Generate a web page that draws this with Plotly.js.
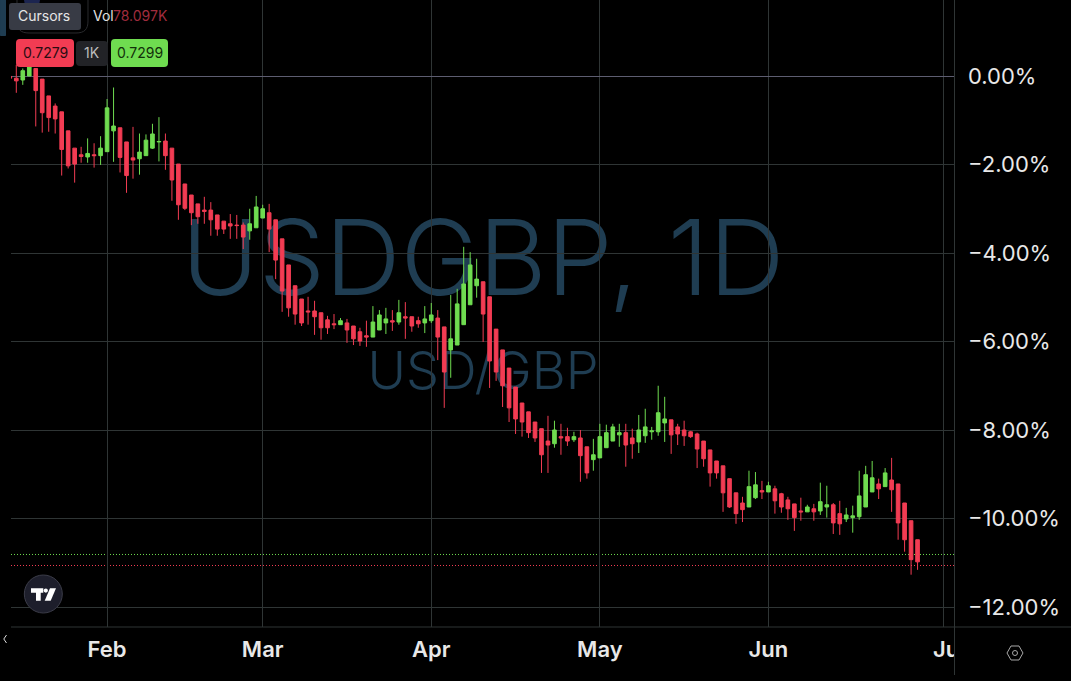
<!DOCTYPE html>
<html>
<head>
<meta charset="utf-8">
<script src="https://cdn.plot.ly/plotly-3.0.1.min.js"></script>
<style>html,body{margin:0;padding:0;background:#000;overflow:hidden}#chart{width:1071px;height:681px}</style>
</head>
<body>
<div id="chart"></div>
<script>
const openPct = [-0.01,-0.05,-0.09,0,0.17,-0.07,-0.45,-0.68,-0.81,-1.24,-1.63,-1.78,-1.83,-1.78,-1.80,-1.71,-1.24,-1.17,-1.49,-1.85,-1.87,-1.80,-1.63,-1.49,-1.47,-1.63,-1.99,-2.44,-2.69,-2.89,-3.03,-3.03,-3.14,-3.28,-3.34,-3.37,
-3.37,-3.50,-3.43,-3.21,-3.09,-3.25,-3.68,-4.27,-4.74,-5.04,-5.31,-5.31,-5.35,-5.51,-5.60,-5.62,-5.58,-5.65,-5.78,-5.87,-5.90,-5.74,-5.58,-5.53,-5.56,-5.44,-5.44,-5.53,-5.58,-5.53,-5.47,-5.67,-6.19,-6.08,-5.62,-5.17,-4.74,-4.65,-4.99,-5.72,-6.19,-6.60,
-7.03,-7.39,-7.59,-7.82,-7.97,-8.25,-8.31,-8.15,-8.15,-8.22,-8.18,-8.38,-8.67,-8.63,-8.40,-8.25,-8.11,-8.06,-8.18,-8.27,-8.13,-8.04,-8.04,-7.84,-7.77,-7.93,-8.00,-8.04,-8.09,-8.25,-8.45,-8.70,-8.81,-9.10,-9.42,
-9.65,-9.74,-9.53,-9.37,-9.40,-9.33,-9.44,-9.58,-9.67,-9.83,-9.85,-9.78,-9.83,-9.74,-9.69,-9.89,-10.01,-9.98,-9.96,-9.74,-9.40,-9.22,-9.28,-9.13,-9.22,-9.65,-10.05,-10.48];
const highPct = [0,0.25,0.17,0.29,0.17,-0.07,-0.45,-0.62,-0.81,-1.24,-1.63,-1.60,-1.41,-1.52,-1.36,-0.52,-0.26,-1.17,-1.49,-1.15,-1.30,-1.32,-1.08,-0.93,-1.30,-1.63,-1.99,-2.44,-2.69,-2.89,-2.73,-2.85,-3.14,-3.28,-3.12,-3.14,
-3.31,-3.00,-2.71,-2.91,-2.89,-3.25,-3.68,-4.27,-4.74,-5.04,-4.99,-5.08,-5.35,-5.42,-5.38,-5.47,-5.49,-5.65,-5.69,-5.53,-5.20,-5.29,-5.24,-5.29,-5.06,-5.11,-5.44,-5.44,-5.20,-5.13,-5.29,-5.67,-4.95,-4.81,-3.86,-3.98,-4.13,-4.65,-4.99,-5.72,-6.19,-6.60,
-7.03,-7.39,-7.59,-7.82,-7.97,-7.68,-7.79,-7.86,-7.95,-8.04,-8.00,-8.38,-8.20,-7.86,-7.88,-7.86,-7.86,-7.86,-7.97,-7.66,-7.52,-7.93,-7.00,-7.25,-7.77,-7.86,-7.79,-8.02,-8.06,-8.25,-8.45,-8.70,-8.81,-9.10,-9.42,
-9.51,-8.92,-8.95,-9.15,-9.17,-9.26,-9.42,-9.51,-9.67,-9.53,-9.69,-9.67,-9.19,-9.26,-9.65,-9.60,-9.76,-9.71,-8.92,-8.81,-8.70,-9.10,-8.86,-8.63,-9.22,-9.65,-10.05,-10.48];
const lowPct = [-0.07,-0.38,-0.20,0,-1.14,-1.28,-1.26,-1.30,-2.25,-2.09,-2.41,-1.96,-1.96,-2.07,-2.01,-1.71,-1.94,-2.18,-2.64,-2.32,-2.23,-1.80,-1.65,-1.93,-2.12,-2.82,-3.25,-3.03,-3.37,-3.34,-3.34,-3.61,-3.61,-3.57,-3.68,-3.68,
-3.91,-3.70,-3.43,-3.21,-3.98,-4.59,-5.33,-5.44,-5.62,-5.65,-5.62,-5.85,-5.96,-5.83,-5.72,-5.62,-6.03,-6.08,-6.10,-6.12,-5.90,-5.74,-5.83,-5.76,-5.62,-5.94,-5.78,-5.69,-5.81,-5.58,-6.42,-7.50,-6.82,-6.08,-5.62,-5.17,-5.01,-6.01,-7.05,-6.89,-7.48,-7.82,
-8.09,-8.15,-8.18,-8.27,-8.97,-8.97,-8.40,-8.56,-8.36,-8.27,-9.17,-9.10,-8.92,-8.63,-8.40,-8.25,-8.38,-8.83,-8.65,-8.52,-8.29,-8.22,-8.13,-8.27,-8.54,-8.34,-8.36,-8.18,-8.86,-8.83,-9.28,-9.10,-9.85,-9.76,-10.12,
-10.08,-9.74,-9.56,-9.56,-9.40,-9.89,-9.87,-10.03,-10.28,-10.05,-9.85,-10.05,-9.92,-9.98,-10.35,-10.37,-10.08,-10.32,-10.03,-9.74,-9.40,-9.56,-9.28,-9.85,-10.48,-10.75,-11.27,-11.16];
const closePct = [-0.05,-0.11,0.12,0.21,-0.33,-0.83,-0.94,-0.97,-1.66,-2.03,-1.99,-1.82,-1.75,-1.80,-1.63,-0.72,-1.13,-1.84,-2.25,-1.90,-1.72,-1.45,-1.31,-1.48,-1.80,-2.35,-2.91,-2.99,-3.09,-3.18,-3.06,-3.25,-3.46,-3.46,-3.39,-3.38,
-3.64,-3.34,-2.96,-3.00,-3.46,-4.16,-4.86,-5.24,-5.38,-5.58,-5.33,-5.44,-5.69,-5.69,-5.62,-5.53,-5.74,-5.94,-5.99,-5.90,-5.56,-5.40,-5.49,-5.56,-5.35,-5.47,-5.65,-5.60,-5.49,-5.40,-5.90,-6.69,-5.94,-5.15,-4.70,-4.27,-4.59,-5.38,-6.44,-6.69,-7.00,-7.50,
-7.75,-7.82,-8.06,-8.18,-8.56,-8.34,-8.00,-8.18,-8.25,-8.15,-8.58,-8.97,-8.56,-8.15,-8.06,-7.93,-8.06,-8.34,-8.31,-8.00,-7.93,-8.02,-7.61,-7.75,-8.11,-8.09,-8.13,-8.15,-8.43,-8.65,-8.97,-8.97,-9.42,-9.74,-9.89,
-9.80,-9.28,-9.24,-9.40,-9.26,-9.60,-9.74,-9.78,-9.98,-9.85,-9.74,-9.85,-9.62,-9.69,-10.10,-10.12,-9.92,-9.94,-9.49,-9.01,-9.08,-9.33,-8.97,-9.35,-10.10,-10.48,-10.93,-10.98];
const candleSlots = openPct.map((_, i) => i - 1);
const monthSlots = [14, 38, 64, 90, 116, 143];
const monthLabels = ['Feb', 'Mar', 'Apr', 'May', 'Jun', '\u00a0\u00a0Jul'];
const yTicks = [0, -2, -4, -6, -8, -10, -12];
const yTickLabels = ['0.00%', '\u22122.00%', '\u22124.00%', '\u22126.00%', '\u22128.00%', '\u221210.00%', '\u221212.00%'];
const bidLevel = -10.813;
const askLevel = -11.062;

const RED = '#f23c53', GREEN = '#6fdc50', GRID = '#2f3535', WM = '#1f3d52';
const L = 11, T = 0, W = 943, H = 627;
const px = x => (x - L) / W;
const py = y => 1 - (y - T) / H;
const P = (x, y) => px(x).toFixed(5) + ',' + py(y).toFixed(5);
const poly = (pts, close) => 'M' + pts.map(p => P(p[0], p[1])).join('L') + (close ? 'Z' : '');
function rrect(x0, y0, x1, y1, r) {
  const k = r * 0.3;
  return 'M' + P(x0 + r, y0) + 'L' + P(x1 - r, y0) + 'C' + P(x1 - k, y0) + ' ' + P(x1, y0 + k) + ' ' + P(x1, y0 + r) +
    'L' + P(x1, y1 - r) + 'C' + P(x1, y1 - k) + ' ' + P(x1 - k, y1) + ' ' + P(x1 - r, y1) +
    'L' + P(x0 + r, y1) + 'C' + P(x0 + k, y1) + ' ' + P(x0, y1 - k) + ' ' + P(x0, y1 - r) +
    'L' + P(x0, y0 + r) + 'C' + P(x0, y0 + k) + ' ' + P(x0 + k, y0) + ' ' + P(x0 + r, y0) + 'Z';
}
const pathShape = (path, fill, line, lw) => ({type: 'path', xref: 'paper', yref: 'paper', path, fillcolor: fill || 'rgba(0,0,0,0)', line: {color: line || 'rgba(0,0,0,0)', width: lw || 0}, layer: 'above'});
const circle = (cx, cy, r, fill, line, lw) => ({type: 'circle', xref: 'paper', yref: 'paper', x0: px(cx - r), x1: px(cx + r), y0: py(cy + r), y1: py(cy - r), fillcolor: fill || 'rgba(0,0,0,0)', line: {color: line || 'rgba(0,0,0,0)', width: lw || 0}, layer: 'above'});
const segment = (x0, y0, x1, y1, color) => ({type: 'line', xref: 'paper', yref: 'paper', x0: px(x0), x1: px(x1), y0: py(y0), y1: py(y1), line: {color, width: 1}, layer: 'above'});
const watermark = (text, cx, cy, size) => ({type: 'rect', xref: 'paper', yref: 'paper', x0: px(cx - 400), x1: px(cx + 400), y0: py(cy + 80), y1: py(cy - 80), layer: 'below', fillcolor: 'rgba(0,0,0,0)', line: {width: 0},
  label: {text, textposition: 'middle center', font: {family: 'Inter, sans-serif', size, color: WM, weight: 300}}});
const level = (y, color) => ({type: 'line', xref: 'paper', yref: 'y', x0: 0, x1: 1, y0: y, y1: y, layer: 'below', line: {color, width: 1, dash: '1px,2px'}});
const label = (text, x, y, size, color, anchor, weight) => ({text, xref: 'paper', yref: 'paper', x: px(x), y: py(y), xanchor: anchor || 'center', yanchor: 'middle', showarrow: false, font: {family: 'Inter, sans-serif', size, color, weight: weight || 400}});

const shapes = [
  watermark('USDGBP, 1D', 483, 253, 105),
  watermark('USD/GBP', 483, 369, 52.3),
  level(bidLevel, GREEN), level(askLevel, RED),
  {type: 'rect', xref: 'paper', yref: 'paper', x0: px(954.6), x1: px(1000), y0: py(676), y1: py(629), fillcolor: '#000', line: {width: 0}, layer: 'above'},
  segment(11, 627, 1071, 627, '#2f3535'),
  segment(954.5, 0, 954.5, 675, '#2f3535'),
  pathShape(rrect(0, -6, 6, 36, 1), WM),
  pathShape(rrect(17, -20, 88, 33, 12), '#000', '#2a2b2e', 1),
  circle(32, 0, 8, '#1c2550'),
  pathShape(rrect(9, 3, 81, 30, 3), '#383b45'),
  pathShape(rrect(16, 39, 74, 67, 4), RED),
  pathShape(rrect(76, 41, 108, 66, 4), '#222327'),
  pathShape(rrect(111, 39, 168, 67, 4), GREEN),
  circle(43.3, 594, 19, '#1d1e2b', '#3b3c48', 1),
  pathShape(poly([[31, 588.3], [43.3, 588.3], [43.3, 592.7], [40.7, 592.7], [40.7, 600.7], [36, 600.7], [36, 592.7], [31, 592.7]], true), '#fff'),
  circle(45.8, 590.6, 2.1, '#fff'),
  pathShape(poly([[50, 588.3], [56, 588.3], [50.7, 600.7], [44.7, 600.7]], true), '#fff'),
  pathShape(poly([[6.5, 635], [3.8, 639], [6.5, 643]], false), null, '#ddd', 1),
  pathShape(poly([[1007, 653], [1011, 646], [1019, 646], [1023, 653], [1019, 660], [1011, 660]], true), null, '#a8a8a8', 1),
  circle(1015, 653, 2.5, null, '#a8a8a8', 1)
];

const annotations = [
  label('Cursors', 44, 16, 14, '#e6e6e6'),
  label('Vol', 90.5, 15, 14, '#e0e0e0', 'left'),
  label('78.097K', 111, 15, 14, '#a02c3e', 'left'),
  label('0.7279', 45, 53, 14, '#2a0c12'),
  label('1K', 92, 53, 14, '#bdbdbd'),
  label('0.7299', 139.5, 53, 14, '#12300a')
];

Plotly.newPlot('chart', [{
  type: 'candlestick',
  x: candleSlots,
  open: openPct, high: highPct, low: lowPct, close: closePct,
  increasing: {line: {color: GREEN, width: 1}, fillcolor: GREEN},
  decreasing: {line: {color: RED, width: 1}, fillcolor: RED},
  whiskerwidth: 0,
  hoverinfo: 'skip',
  showlegend: false
}], {
  width: 1071, height: 681,
  margin: {l: 11, r: 117, t: 0, b: 54, pad: 0},
  paper_bgcolor: '#000', plot_bgcolor: '#000',
  boxgap: 0.2,
  showlegend: false,
  dragmode: false,
  xaxis: {
    type: 'linear', range: [-0.817, 144.62], rangeslider: {visible: false},
    tickmode: 'array', tickvals: monthSlots, ticktext: monthLabels,
    showgrid: true, gridcolor: GRID, gridwidth: 1, zeroline: false, showline: false,
    ticks: '', ticklabelstandoff: 7,
    tickfont: {family: 'Inter, sans-serif', size: 22, color: '#e8e8e8', weight: 600}
  },
  yaxis: {
    side: 'right', range: [-12.452, 1.7175],
    tickmode: 'array', tickvals: yTicks, ticktext: yTickLabels,
    showgrid: true, gridcolor: GRID, gridwidth: 1,
    zeroline: true, zerolinecolor: '#5d5d70', zerolinewidth: 1, showline: false,
    ticks: '', ticklabelstandoff: 13,
    tickfont: {family: 'Inter, sans-serif', size: 22, color: '#e8e8e8'}
  },
  shapes, annotations
}, {displayModeBar: false, staticPlot: true});
</script>
</body>
</html>
